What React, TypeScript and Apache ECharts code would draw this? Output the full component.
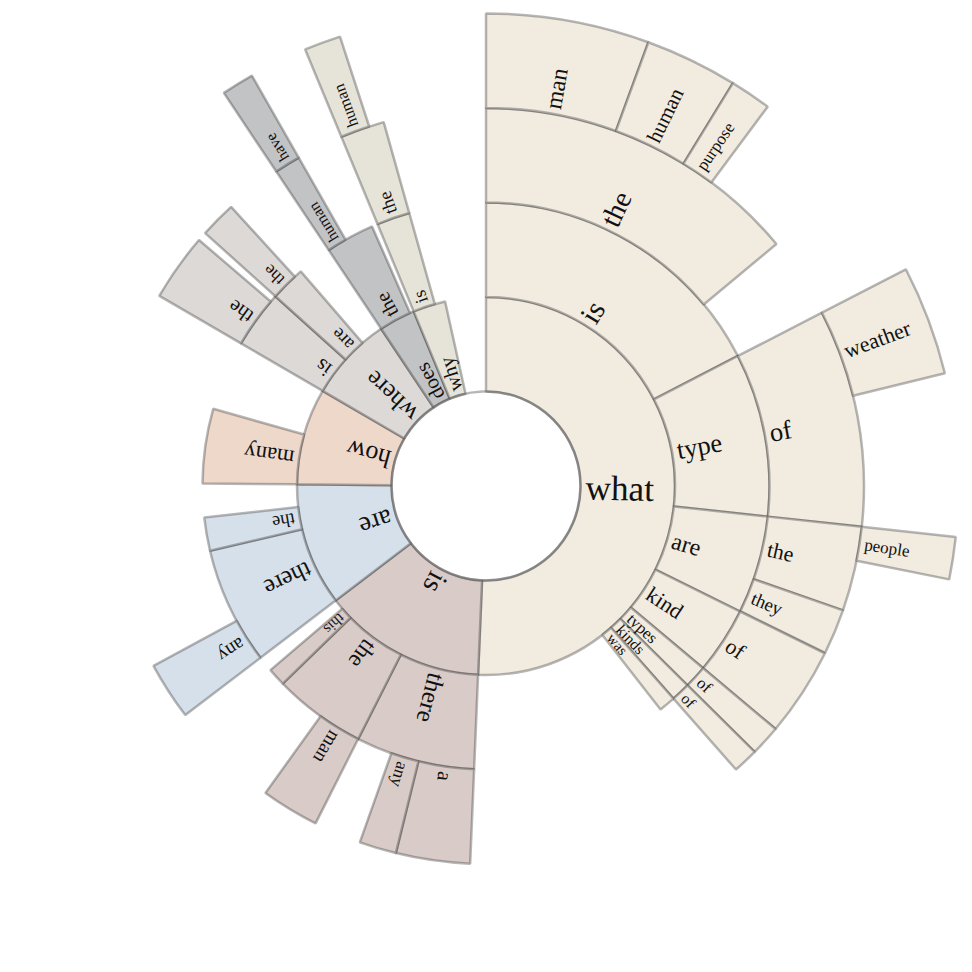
import React, { useEffect, useRef } from "react";
import * as echarts from "echarts";

// Each entry: path of words (joined by ">") and its share of the circle (degrees)
const whatNodes: [string, number][] = [
  ["what", 182.4],
  ["what>is", 62.7],
  ["what>is>the", 50.2],
  ["what>is>the>man", 20.1],
  ["what>is>the>human", 11.4],
  ["what>is>the>purpose", 5.1],
  ["what>type", 33.5],
  ["what>type>of", 33.5],
  ["what>type>of>weather", 13.5],
  ["what>are", 20.1],
  ["what>are>the", 13.0],
  ["what>are>the>people", 5.2],
  ["what>are>they", 7.0],
  ["what>kind", 13.7],
  ["what>kind>of", 13.7],
  ["what>types", 4.7],
  ["what>types>of", 4.7],
  ["what>kinds", 3.9],
  ["what>kinds>of", 3.9],
  ["what>was", 3.4],
];

const isNodes: [string, number][] = [
  ["is", 50.3],
  ["is>there", 24.4],
  ["is>there>a", 11.4],
  ["is>there>any", 5.7],
  ["is>the", 19.0],
  ["is>the>man", 8.9],
  ["is>this", 3.7],
];

const areNodes: [string, number][] = [
  ["are", 37.8],
  ["are>there", 24.1],
  ["are>there>any", 8.9],
  ["are>the", 6.8],
];

const howNodes: [string, number][] = [
  ["how", 29.7],
  ["how>many", 15.3],
];

const whereNodes: [string, number][] = [
  ["where", 26.1],
  ["where>is", 11.8],
  ["where>is>the", 10.4],
  ["where>are", 7.2],
  ["where>are>the", 5.6],
];

const doesNodes: [string, number][] = [
  ["does", 11.2],
  ["does>the", 10.0],
  ["does>the>human", 4.0],
  ["does>the>human>have", 4.0],
];

const whyNodes: [string, number][] = [
  ["why", 10.0],
  ["why>is", 6.8],
  ["why>is>the", 6.8],
  ["why>is>the>human", 4.5],
];

const groupColors: Record<string, string> = {
  what: "#f1ebe0",
  is: "#d9ccc8",
  are: "#d6e0ea",
  how: "#eed8ca",
  where: "#dcd9d6",
  does: "#c2c3c5",
  why: "#e6e3d8",
};

const groups = [whatNodes, isNodes, areNodes, howNodes, whereNodes, doesNodes, whyNodes];

type TNode = { name: string; value: number; children: TNode[] };

function toTree(list: [string, number][]): TNode {
  const map: Record<string, TNode> = {};
  let root: TNode | null = null;
  for (const [path, value] of list) {
    const parts = path.split(">");
    const node: TNode = { name: parts[parts.length - 1], value, children: [] };
    map[path] = node;
    if (parts.length === 1) root = node;
    else map[parts.slice(0, -1).join(">")].children.push(node);
  }
  return root as TNode;
}

const BORDER = "rgba(55,55,55,0.36)";
const FONT = "'Liberation Serif', 'Times New Roman', serif";
const R0 = 94.5;
const R1 = 472.5;
const LEVELS = 4;
const RING = (R1 - R0) / LEVELS;
const PAD = 5;

let measureCtx: CanvasRenderingContext2D | null = null;
function textWidth(text: string, size: number) {
  if (!measureCtx) {
    const c = document.createElement("canvas");
    measureCtx = c.getContext("2d");
  }
  if (!measureCtx) return text.length * size * 0.5;
  measureCtx.font = `${size}px ${FONT}`;
  return measureCtx.measureText(text).width;
}

function buildData() {
  const roots = groups.map(toTree);
  const used = roots.reduce((s, r) => s + r.value, 0);
  const total = Math.max(360, used);
  const unit = 360 / total;
  const conv = (nodes: TNode[], start: number, color: string): any[] => {
    let a = start;
    return nodes.map((n) => {
      const span = n.value * unit;
      const mid = a + span / 2;
      const fontSize = Math.round((8.7 + 5.1 * Math.log(span)) * 10) / 10;
      const w = textWidth(n.name, fontSize);
      // shift the label so it starts just outside the ring's inner edge
      const shift = PAD + w / 2 - RING / 2;
      const padding = shift < 0 ? [0, -2 * shift, 0, 0] : [0, 0, 0, 2 * shift];
      const item = {
        name: n.name,
        value: n.value,
        itemStyle: { color, borderColor: BORDER, borderWidth: 2.5 },
        label: {
          rotate: 90 - mid,
          fontSize,
          padding,
        },
        children: conv(n.children, a, color),
      };
      a += span;
      return item;
    });
  };
  let a = 0;
  const data: any[] = [];
  roots.forEach((r) => {
    data.push(...conv([r], a, groupColors[r.name]));
    a += r.value * unit;
  });
  if (total > used) {
    data.push({
      name: "",
      value: total - used,
      itemStyle: { color: "rgba(0,0,0,0)", borderWidth: 0 },
      label: { show: false },
    });
  }
  return data;
}

export default function App() {
  const ref = useRef<HTMLDivElement>(null);
  useEffect(() => {
    if (!ref.current) return;
    const chart = echarts.init(ref.current, undefined, { renderer: "svg" });
    chart.setOption({
      animation: false,
      backgroundColor: "#ffffff",
      series: [
        {
          type: "sunburst",
          center: ["50%", "50%"],
          radius: [R0, R1],
          startAngle: 90,
          clockwise: true,
          sort: (a: any, b: any) => 0,
          nodeClick: false,
          emphasis: { disabled: true },
          label: {
            show: true,
            position: "inside",
            align: "center",
            color: "#111",
            fontFamily: FONT,
          },
          data: buildData(),
        },
      ],
      graphic: [
        {
          type: "circle",
          shape: { cx: 486, cy: 486, r: R0 },
          style: { fill: "rgba(0,0,0,0)", stroke: BORDER, lineWidth: 2.5 },
          z: 100,
          silent: true,
        },
      ],
    });
    return () => chart.dispose();
  }, []);
  return (
    <div
      ref={ref}
      style={{ position: "fixed", left: 0, top: 0, width: 972, height: 972 }}
    />
  );
}
